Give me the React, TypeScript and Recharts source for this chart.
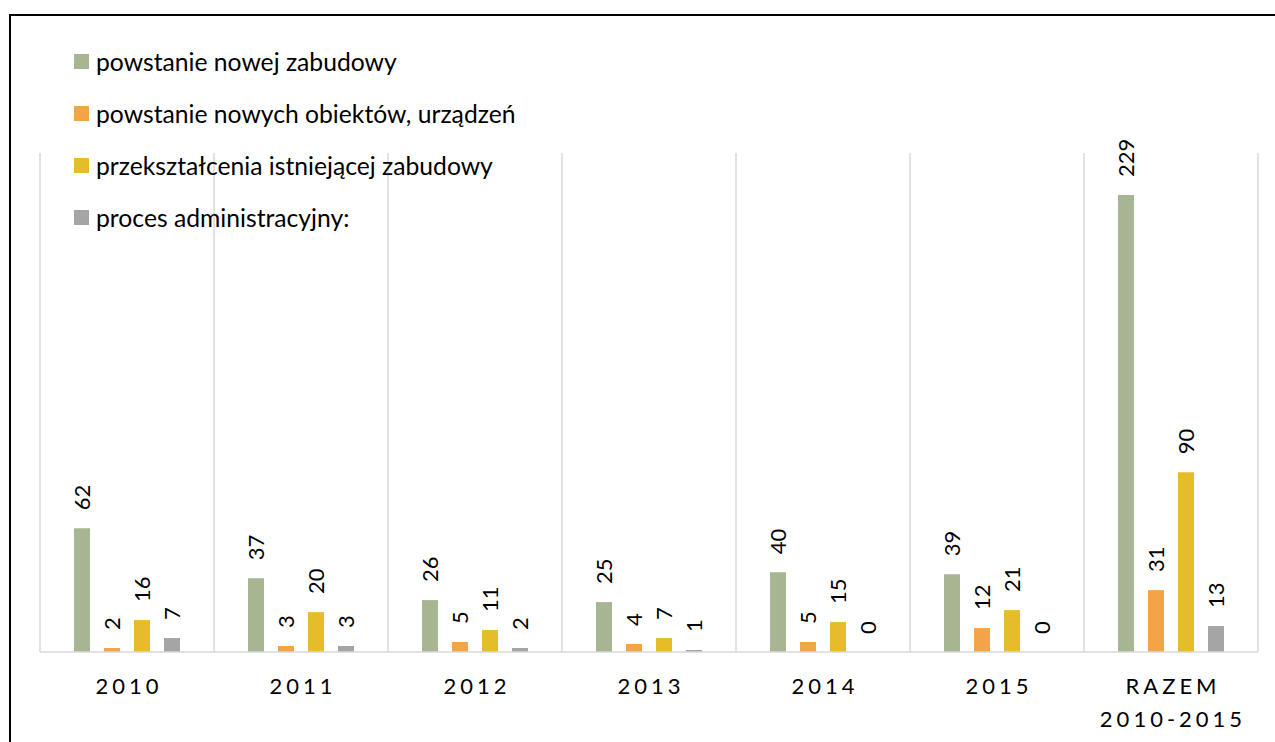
import React from "react";
import { BarChart, Bar, XAxis, YAxis, CartesianGrid, Legend, LabelList } from "recharts";

const categories = ["2010", "2011", "2012", "2013", "2014", "2015", "RAZEM\n2010-2015"];
const newBuildings = [62, 37, 26, 25, 40, 39, 229];
const newObjects = [2, 3, 5, 4, 5, 12, 31];
const transformations = [16, 20, 11, 7, 15, 21, 90];
const adminProcess = [7, 3, 2, 1, 0, 0, 13];

const seriesNames = [
  "powstanie nowej zabudowy",
  "powstanie nowych obiektów, urządzeń",
  "przekształcenia istniejącej zabudowy",
  "proces administracyjny:",
];
const seriesColors = ["#a6b592", "#f2a447", "#e6bc2b", "#a5a5a5"];
const seriesKeys = ["s1", "s2", "s3", "s4"];

const data = categories.map((c, i) => ({
  name: c,
  s1: newBuildings[i],
  s2: newObjects[i],
  s3: transformations[i],
  s4: adminProcess[i],
}));

const FONT = "Lato, 'Open Sans', sans-serif";

const RotatedLabel = (props: any) => {
  const { x, y, width, value } = props;
  const cx = Number(x) + Number(width) / 2;
  const ty = Number(y) - 18;
  return (
    <text
      x={cx}
      y={ty}
      transform={`rotate(-90, ${cx}, ${ty})`}
      textAnchor="start"
      dominantBaseline="central"
      fontFamily={FONT}
      fontSize={22}
      fill="#000"
    >
      {value}
    </text>
  );
};

const Tick = (props: any) => {
  const { x, y, payload } = props;
  const lines = String(payload.value).split("\n");
  return (
    <text
      x={x}
      y={y}
      textAnchor="middle"
      fontFamily={FONT}
      fontSize={22}
      fill="#000"
      style={{ letterSpacing: "4px" }}
    >
      {lines.map((l, i) => (
        <tspan key={i} x={Number(x) + 2} y={Number(y) + 42 + i * 33}>
          {l}
        </tspan>
      ))}
    </text>
  );
};

const LegendContent = (props: any) => {
  const payload = [...(props.payload || [])].sort(
    (a: any, b: any) => seriesNames.indexOf(a.value) - seriesNames.indexOf(b.value)
  );
  return (
    <div style={{ fontFamily: FONT, fontSize: 24.7, color: "#000" }}>
      {payload.map((p: any, i: number) => (
        <div key={i} style={{ display: "flex", alignItems: "center", height: 51.8, whiteSpace: "nowrap" }}>
          <span style={{ display: "inline-block", width: 15, height: 15, background: p.color, marginRight: 7 }} />
          <span>{p.value}</span>
        </div>
      ))}
    </div>
  );
};

export default function App() {
  return (
    <div style={{ position: "absolute", left: 0, top: 0, width: 1275, height: 742, overflow: "hidden", background: "#fff" }}>
      <div
        style={{
          position: "absolute",
          left: 9,
          top: 14,
          width: 1275,
          height: 742,
          borderLeft: "2px solid #000",
          borderTop: "2px solid #000",
        }}
      />
      <div style={{ position: "absolute", left: 0, top: 0 }}>
        <BarChart
          width={1275}
          height={742}
          data={data}
          margin={{ top: 153, left: 40, right: 17, bottom: 30 }}
          barSize={16}
          barGap={14}
        >
          <CartesianGrid
            horizontal={false}
            stroke="#d9d9d9"
            strokeWidth={1.5}
            verticalCoordinatesGenerator={({ offset }: any) =>
              Array.from({ length: categories.length + 1 }, (_, i) => offset.left + (i * offset.width) / categories.length)
            }
          />
          <XAxis
            dataKey="name"
            height={60}
            tickLine={false}
            tickSize={0}
            tickMargin={0}
            axisLine={{ stroke: "#d9d9d9", strokeWidth: 1.5 }}
            tick={<Tick />}
            interval={0}
          />
          <YAxis hide domain={[0, 250]} width={0} />
          <Legend
            layout="vertical"
            align="center"
            verticalAlign="middle"
            wrapperStyle={{ left: 74, top: 36, width: "auto", height: "auto" }}
            content={<LegendContent />}
          />
          {seriesKeys.map((k, i) => (
            <Bar
              key={k}
              dataKey={k}
              name={seriesNames[i]}
              fill={seriesColors[i]}
              minPointSize={0.01}
              isAnimationActive={false}
            >
              <LabelList dataKey={k} content={<RotatedLabel />} />
            </Bar>
          ))}
        </BarChart>
      </div>
    </div>
  );
}
